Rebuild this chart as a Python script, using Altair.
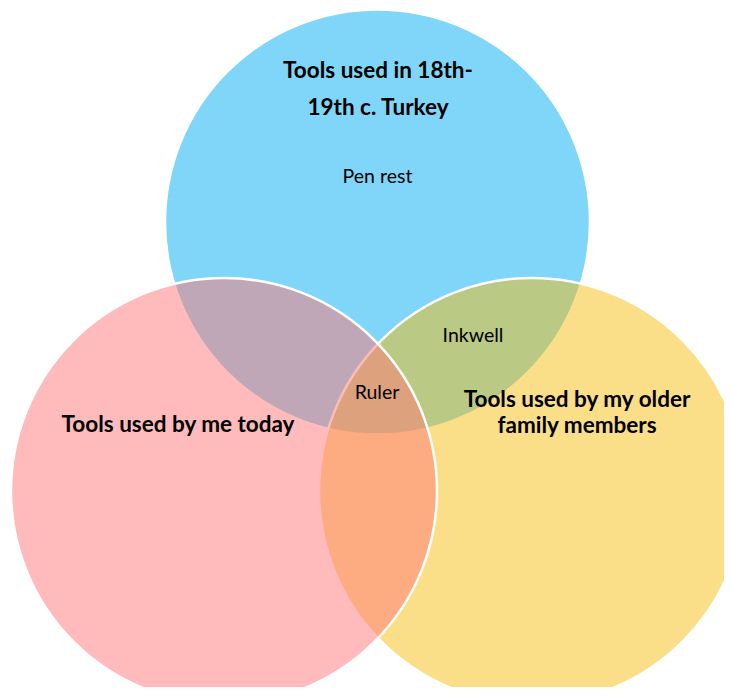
import altair as alt
import pandas as pd

# Circles of the Venn diagram (centres and radii in reference-frame units)
set_names = ["Tools used in 18th-19th c. Turkey", "Tools used by my older family members", "Tools used by me today"]
set_colors = ["#00ADF1", "#F5BD11", "#FF7777"]
center_x = [377.5, 532, 224]
center_y = [222, 491, 491]
radius = [212.5, 213, 213]

# Bold set titles (one row per line)
title_lines = ["Tools used in 18th-", "19th c. Turkey", "Tools used by me today", "Tools used by my older", "family members"]
title_x = [378, 378, 178, 577, 577]
title_y = [78, 115, 432, 407, 433]

# Items in the regions
item_labels = ["Pen rest", "Inkwell", "Ruler"]
item_x = [377.5, 473, 377]
item_y = [183, 342, 399]

circles = pd.DataFrame({"name": set_names, "cx": center_x, "cy": center_y, "r": radius})
titles = pd.DataFrame({"text": title_lines, "x": title_x, "y": title_y})
items = pd.DataFrame({"text": item_labels, "x": item_x, "y": item_y})

xs = alt.Scale(domain=[8, 724], range=[0, 716], nice=False, zero=False)
ys = alt.Scale(domain=[8, 687], range=[0, 679], nice=False, zero=False)

circle_layer = alt.Chart(circles).transform_calculate(
    sz="pow(2*datum.r, 2)"
).mark_circle(opacity=1, fillOpacity=0.5, stroke="white", strokeWidth=2.5, strokeOpacity=1).encode(
    x=alt.X("cx:Q", scale=xs, axis=None),
    y=alt.Y("cy:Q", scale=ys, axis=None),
    size=alt.Size("sz:Q", scale=None, legend=None),
    color=alt.Color("name:N", scale=alt.Scale(domain=set_names, range=set_colors), legend=None),
)

title_layer = alt.Chart(titles).mark_text(
    font="Lato", fontWeight="bold", fontSize=22.5, align="center", baseline="alphabetic", color="black"
).encode(
    x=alt.X("x:Q", scale=xs, axis=None),
    y=alt.Y("y:Q", scale=ys, axis=None),
    text="text:N",
)

item_layer = alt.Chart(items).mark_text(
    font="Lato", fontSize=19.5, align="center", baseline="alphabetic", color="black"
).encode(
    x=alt.X("x:Q", scale=xs, axis=None),
    y=alt.Y("y:Q", scale=ys, axis=None),
    text="text:N",
)

chart = alt.layer(circle_layer, title_layer, item_layer).properties(
    width=716, height=679, padding=0, autosize=alt.AutoSizeParams(type="none")
).configure_view(stroke=None)

chart.save("out.html", embed_options={"renderer": "svg", "actions": False})
